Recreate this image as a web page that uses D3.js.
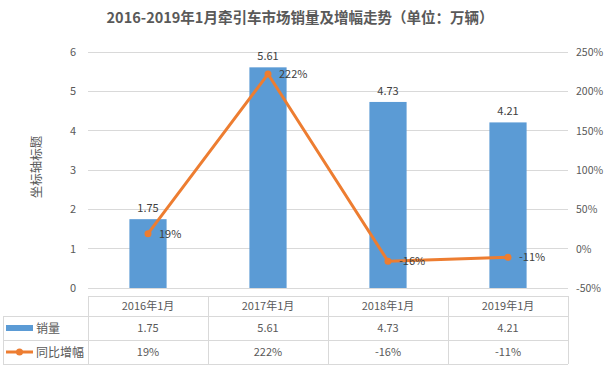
<!DOCTYPE html>
<html><head><meta charset="utf-8">
<script src="https://cdn.jsdelivr.net/npm/d3@7/dist/d3.min.js"></script>
<style>body{margin:0;background:#fff;} svg{display:block;}</style>
</head><body>
<svg id="c" width="604" height="366"></svg>
<script>
const categories = ["2016年1月","2017年1月","2018年1月","2019年1月"];
const sales = [1.75, 5.61, 4.73, 4.21];
const growth = [19, 222, -16, -11];
const leftTicks = [0,1,2,3,4,5,6];
const rightTicks = [-50,0,50,100,150,200,250];
const title = "2016-2019年1月牵引车市场销量及增幅走势（单位：万辆）";
const seriesNames = ["销量","同比增幅"];
const axisTitle = "坐标轴标题";

const svg = d3.select("#c");
const font = "'Noto Sans CJK SC','Noto Sans',sans-serif";
const txt = "#595959", grid = "#d9d9d9", blue = "#5B9BD5", orange = "#ED7D31";
const L = 88, R = 568, T = 52, B = 288;

const x = d3.scaleBand().domain(categories).range([L, R]).paddingInner(0.69).paddingOuter(0.345);
const xc = d3.scaleBand().domain(categories).range([L, R]);
const yL = d3.scaleLinear().domain([0, 6]).range([B, T]);
const yR = d3.scaleLinear().domain([-50, 250]).range([B, T]);

svg.append("text").attr("x", 300).attr("y", 23).attr("text-anchor", "middle")
  .attr("font-family", font).attr("font-weight", "bold").attr("font-size", 14.5).attr("fill", txt).text(title);

// gridlines
svg.append("g").selectAll("line").data(leftTicks).join("line")
  .attr("x1", L).attr("x2", R).attr("y1", d => yL(d)).attr("y2", d => yL(d))
  .attr("stroke", grid).attr("stroke-width", 1).attr("shape-rendering", "crispEdges");

// left axis labels
const gl = svg.append("g").attr("transform", `translate(${L},0)`)
  .call(d3.axisLeft(yL).tickValues(leftTicks).tickSize(0).tickPadding(12).tickFormat(d3.format("d")));
gl.select(".domain").remove();
gl.selectAll("text").attr("font-family", font).attr("font-size", 11).attr("fill", txt);

// right axis labels
const gr = svg.append("g").attr("transform", `translate(${R},0)`)
  .call(d3.axisRight(yR).tickValues(rightTicks).tickSize(0).tickPadding(8).tickFormat(d => d + "%"));
gr.select(".domain").remove();
gr.selectAll("text").attr("font-family", font).attr("font-size", 10.5).attr("fill", txt);

// axis title
svg.append("text").attr("transform", `translate(41,167) rotate(-90)`).attr("text-anchor", "middle")
  .attr("font-family", font).attr("font-size", 12.5).attr("fill", txt).text(axisTitle);

// bars
svg.append("g").selectAll("rect").data(sales).join("rect")
  .attr("x", (d, i) => x(categories[i])).attr("width", x.bandwidth())
  .attr("y", d => yL(d)).attr("height", d => B - yL(d)).attr("fill", blue);

svg.append("g").selectAll("text").data(sales).join("text")
  .attr("x", (d, i) => x(categories[i]) + x.bandwidth() / 2).attr("y", d => yL(d) - 7)
  .attr("text-anchor", "middle").attr("font-family", font).attr("font-size", 11).attr("fill", "#404040")
  .text(d => d.toFixed(2));

// line
const cx = (i) => xc(categories[i]) + xc.bandwidth() / 2;
const line = d3.line().x((d, i) => cx(i)).y(d => yR(d));
svg.append("path").datum(growth).attr("d", line).attr("fill", "none")
  .attr("stroke", orange).attr("stroke-width", 3).attr("stroke-linejoin", "round");
svg.append("g").selectAll("circle").data(growth).join("circle")
  .attr("cx", (d, i) => cx(i)).attr("cy", d => yR(d)).attr("r", 3.5).attr("fill", orange);
svg.append("g").selectAll("text").data(growth).join("text")
  .attr("x", (d, i) => cx(i) + 11).attr("y", d => yR(d) + 4)
  .attr("font-family", font).attr("font-size", 11).attr("fill", "#404040")
  .text(d => d + "%");

// data table
const rows = [296, 316, 340, 364];
const tb = svg.append("g").attr("stroke", grid).attr("stroke-width", 1).attr("shape-rendering", "crispEdges");
tb.append("line").attr("x1", L).attr("x2", R).attr("y1", rows[0]).attr("y2", rows[0]);
rows.slice(1).forEach(y => tb.append("line").attr("x1", 3).attr("x2", R).attr("y1", y).attr("y2", y));
tb.append("line").attr("x1", 3).attr("x2", 3).attr("y1", rows[1]).attr("y2", rows[3]);
categories.forEach(c => tb.append("line").attr("x1", xc(c)).attr("x2", xc(c)).attr("y1", rows[0]).attr("y2", rows[3]));
tb.append("line").attr("x1", R).attr("x2", R).attr("y1", rows[0]).attr("y2", rows[3]);

const tt = svg.append("g").attr("font-family", font).attr("font-size", 11).attr("fill", txt).attr("text-anchor", "middle");
categories.forEach((c, i) => {
  const xx = cx(i);
  tt.append("text").attr("x", xx).attr("y", (rows[0] + rows[1]) / 2 + 4).text(c);
  tt.append("text").attr("x", xx).attr("y", (rows[1] + rows[2]) / 2 + 4).text(sales[i].toFixed(2));
  tt.append("text").attr("x", xx).attr("y", (rows[2] + rows[3]) / 2 + 4).text(growth[i] + "%");
});
// legend keys
svg.append("rect").attr("x", 6).attr("y", (rows[1] + rows[2]) / 2 - 3).attr("width", 27).attr("height", 6).attr("fill", blue);
svg.append("text").attr("x", 36).attr("y", (rows[1] + rows[2]) / 2 + 4.5).attr("font-family", font).attr("font-size", 12).attr("fill", txt).text(seriesNames[0]);
const ly = (rows[2] + rows[3]) / 2;
svg.append("line").attr("x1", 6).attr("x2", 33).attr("y1", ly).attr("y2", ly).attr("stroke", orange).attr("stroke-width", 3);
svg.append("circle").attr("cx", 19.5).attr("cy", ly).attr("r", 3.5).attr("fill", orange);
svg.append("text").attr("x", 36).attr("y", ly + 4.5).attr("font-family", font).attr("font-size", 12).attr("fill", txt).text(seriesNames[1]);
</script>
</body></html>
